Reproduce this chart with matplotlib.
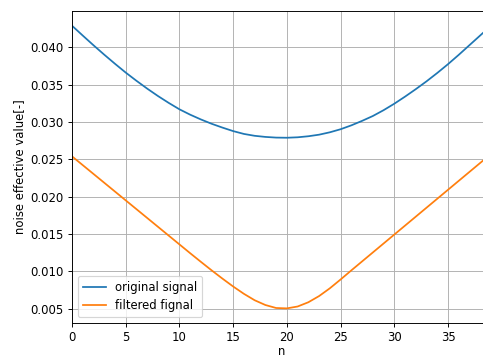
import numpy as np
import matplotlib
matplotlib.use('Agg')
import matplotlib.pyplot as plt

# Sample index
n = np.arange(40)

# Noise effective value of the original signal
original = [0.0429, 0.04158, 0.04028, 0.03902, 0.0378, 0.03662, 0.03552, 0.03447,
            0.03348, 0.03256, 0.0317, 0.03098, 0.03034, 0.02976, 0.02925, 0.02878,
            0.0284, 0.02815, 0.028, 0.02791, 0.02789, 0.02795, 0.02809, 0.0283,
            0.02862, 0.02903, 0.02955, 0.03015, 0.0308, 0.03158, 0.03245, 0.0334,
            0.0344, 0.03545, 0.03657, 0.03775, 0.039, 0.0403, 0.0416, 0.0429]

# Noise effective value of the filtered signal
filtered = [0.0254, 0.02422, 0.02304, 0.02186, 0.02068, 0.0195, 0.01832, 0.01714,
            0.01596, 0.01478, 0.0136, 0.01242, 0.01126, 0.01012, 0.00902, 0.00796,
            0.00698, 0.00612, 0.00548, 0.00508, 0.00503, 0.00528, 0.00585, 0.00668,
            0.00772, 0.0089, 0.01012, 0.01132, 0.01252, 0.01372, 0.01492, 0.01612,
            0.01732, 0.01852, 0.01972, 0.02092, 0.02212, 0.02332, 0.02452, 0.02572]

dpi = 84
fig = plt.figure(figsize=(483 / dpi, 358 / dpi), dpi=dpi)
# axes run past the right edge, like the cropped original
ax = fig.add_axes([72 / 483, 35 / 358, 419 / 483, 312 / 358])

ax.plot(n, original, label='original signal')
ax.plot(n, filtered, label='filtered fignal')

ax.set_xlim(0, 39)
ax.set_ylim(0.00307, 0.04487)
ax.set_xticks([0, 5, 10, 15, 20, 25, 30, 35])
ax.set_xlabel('n', labelpad=1)
ax.set_ylabel('noise effective value[-]')
ax.grid(True)
ax.legend(loc='lower left')

fig.savefig('out.png', dpi=dpi)
